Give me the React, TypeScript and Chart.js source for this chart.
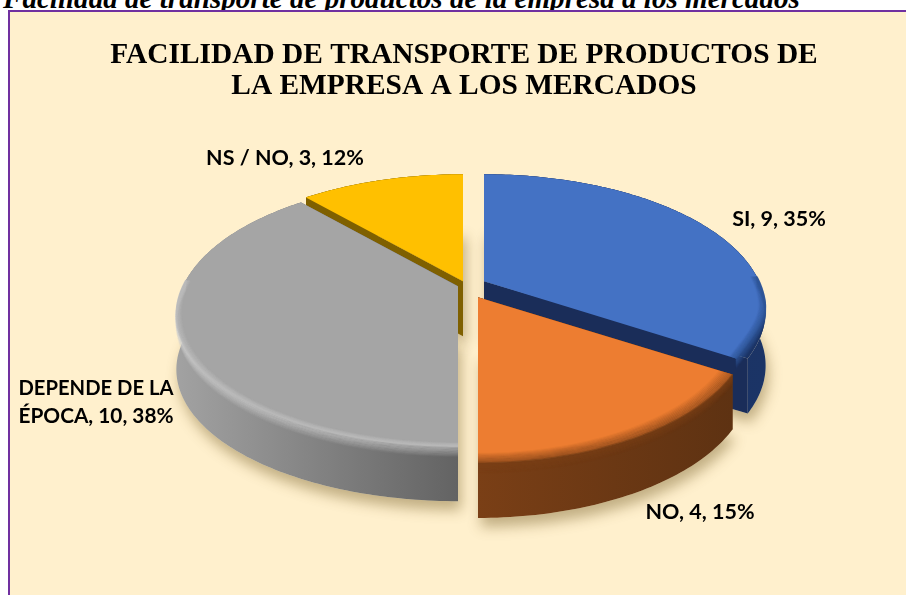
import React, { useEffect, useRef } from "react";
import { Chart, registerables } from "chart.js";

Chart.register(...registerables);

const CAPTION = "Facilidad de transporte de productos de la empresa a los mercados";
const TITLE_LINES = ["FACILIDAD DE TRANSPORTE DE PRODUCTOS DE", "LA EMPRESA A LOS MERCADOS"];
const categories = ["SI", "NO", "DEPENDE DE LA ÉPOCA", "NS / NO"];
const values = [9, 4, 10, 3];

const topColors = ["#4472C4", "#ED7D31", "#A5A5A5", "#FFC000"];
const wallLeft = ["#1B2F5E", "#7A3F16", "#A2A2A2", "#7F6000"];
const wallRight = ["#1B3466", "#5E3212", "#636363", "#7F6000"];
const wallRim = ["#2F5597", "#7A3F16", "#CDCDCD", "#BF9000"];
const innerRim = ["#2F5597", "#7A3F16", "#B8B8B8", "#FFC000"];
const innerWidth = [0.025, 0.05, 0.02, 0];
const sideColors = ["#1A2D59", "#6B3812", "#6E6E6E", "#7F6000"];

// drawing parameters of the tilted disc
const RADIUS = 275;
const RY = 130;
const PERSP = 0.216;
const DEPTH = 55;
const SHIFT_X = 8;
const explode = [
  { dx: 12, dy: -5, sx: 1, syFront: 1, taper: 0.045 },
  { dx: 6, dy: 11, sx: 0.965, syFront: 1, taper: 0 },
  { dx: -14, dy: 0, sx: 1, syFront: 0.965, taper: 0 },
  { dx: -9, dy: -5, sx: 1, syFront: 1, taper: 0 },
];
const labelAnchors = [
  { x: 779, y: 219, lines: 1 },
  { x: 700, y: 512, lines: 1 },
  { x: 96, y: 388, lines: 2 },
  { x: 285, y: 158, lines: 1 },
];
const WRAP_WIDTH = 155;

function project(cx: number, cy: number, ang: number, r: number, s: any, useTaper: boolean) {
  // ang: Chart.js angle (0 = east, clockwise); the right half gets a slight warp
  const fromTop = ang + Math.PI / 2;
  const warped = fromTop < Math.PI ? fromTop + (3 * Math.PI / 180) * Math.sin(2 * fromTop) : fromTop;
  const u = Math.sin(warped) * r;
  const v = -Math.cos(warped) * r;
  const den = 1 - PERSP * v;
  let sx = s.sx;
  if (useTaper && s.taper) {
    const t = Math.min(1, Math.max(0, (fromTop - (100 * Math.PI) / 180) / ((26 * Math.PI) / 180)));
    sx *= 1 - s.taper * t * t * (3 - 2 * t);
  }
  return {
    x: cx + (RADIUS * sx * u) / den,
    y: cy + (RY * v * (v > 0 ? s.syFront : 1)) / den,
  };
}

function arcPoints(cx: number, cy: number, a0: number, a1: number, s: any, useTaper: boolean, r = 1) {
  const n = Math.max(2, Math.ceil(Math.abs(a1 - a0) / (Math.PI / 180)));
  const pts: { x: number; y: number; a: number }[] = [];
  for (let i = 0; i <= n; i++) {
    const a = a0 + ((a1 - a0) * i) / n;
    pts.push({ ...project(cx, cy, a, r, s, useTaper), a });
  }
  return pts;
}

function wedgePath(ctx: CanvasRenderingContext2D, ax: number, ay: number, pts: { x: number; y: number }[], dy = 0) {
  ctx.beginPath();
  ctx.moveTo(ax, ay + dy);
  pts.forEach((p) => ctx.lineTo(p.x, p.y + dy));
  ctx.closePath();
}

const pie3d = {
  id: "pie3d",
  beforeDatasetDraw(chart: any, args: any) {
    const ctx: CanvasRenderingContext2D = chart.ctx;
    const arcs = args.meta.data;
    const geo = arcs.map((el: any, i: number) => {
      const cx = el.x + SHIFT_X + explode[i].dx;
      const cy = el.y + explode[i].dy;
      return {
        cx,
        cy,
        pts: arcPoints(cx, cy, el.startAngle, el.endAngle, explode[i], false),
        topPts: arcPoints(cx, cy, el.startAngle, el.endAngle, explode[i], true),
      };
    });

    // soft ground shadow
    ctx.save();
    ctx.shadowColor = "rgba(110,85,30,0.42)";
    ctx.shadowBlur = 13;
    ctx.shadowOffsetX = 3;
    ctx.shadowOffsetY = 9;
    geo.forEach((g: any) => {
      ctx.fillStyle = "#F2E3BE";
      wedgePath(ctx, g.cx, g.cy, g.pts, DEPTH);
      ctx.fill();
    });
    ctx.restore();

    // back to front
    [3, 0, 2, 1].forEach((i) => {
      const g = geo[i];
      const { cx, cy, pts, topPts } = g;
      const first = pts[0];
      const last = pts[pts.length - 1];

      // radial side faces
      ctx.fillStyle = sideColors[i];
      [first, last].forEach((p: any) => {
        ctx.beginPath();
        ctx.moveTo(cx, cy);
        ctx.lineTo(p.x, p.y);
        ctx.lineTo(p.x, p.y + DEPTH);
        ctx.lineTo(cx, cy + DEPTH);
        ctx.closePath();
        ctx.fill();
      });

      // outer wall
      const xs = pts.map((p: any) => p.x);
      const grad = ctx.createLinearGradient(Math.min(...xs), 0, Math.max(...xs), 0);
      grad.addColorStop(0, wallLeft[i]);
      grad.addColorStop(1, wallRight[i]);
      ctx.fillStyle = grad;
      ctx.beginPath();
      pts.forEach((p: any, k: number) => (k ? ctx.lineTo(p.x, p.y) : ctx.moveTo(p.x, p.y)));
      [...pts].reverse().forEach((p: any) => ctx.lineTo(p.x, p.y + DEPTH));
      ctx.closePath();
      ctx.fill();
      // the wall colour also fills any part of the disc the top face leaves bare
      wedgePath(ctx, cx, cy, pts);
      ctx.fill();

      // top face
      ctx.fillStyle = topColors[i];
      wedgePath(ctx, cx, cy, topPts);
      ctx.fill();

      // rounded rim: a fading band on the wall and one on the top face
      const front = topPts.filter((p: any) => Math.sin(p.a) > -0.05);
      if (front.length > 2) {
        ctx.save();
        ctx.lineJoin = "round";
        ctx.lineWidth = 1.6;
        const N = 10;
        for (let k = N; k >= 0; k--) {
          const t = k / N;
          ctx.globalAlpha = (1 - t) * 0.55;
          ctx.strokeStyle = wallRim[i];
          ctx.beginPath();
          front.forEach((p: any, j: number) =>
            j ? ctx.lineTo(p.x, p.y + t * 11) : ctx.moveTo(p.x, p.y + t * 11)
          );
          ctx.stroke();
        }
        if (innerWidth[i] > 0) {
          for (let k = N; k >= 0; k--) {
            const t = k / N;
            const inner = arcPoints(cx, cy, front[0].a, front[front.length - 1].a, explode[i], true, 1 - t * innerWidth[i]);
            ctx.globalAlpha = (1 - t) * 0.6;
            ctx.strokeStyle = innerRim[i];
            ctx.beginPath();
            inner.forEach((p: any, j: number) => (j ? ctx.lineTo(p.x, p.y) : ctx.moveTo(p.x, p.y)));
            ctx.stroke();
          }
        }
        ctx.restore();
      }
    });
    return false;
  },
  afterDraw(chart: any) {
    const ctx: CanvasRenderingContext2D = chart.ctx;
    const total = values.reduce((a, b) => a + b, 0);
    ctx.save();
    ctx.fillStyle = "#000";
    ctx.font = "bold 21.5px Lato";
    ctx.textAlign = "center";
    ctx.textBaseline = "middle";
    categories.forEach((c, i) => {
      const text = `${c}, ${values[i]}, ${Math.round((values[i] / total) * 100)}%`;
      const a = labelAnchors[i];
      if (a.lines === 1) {
        ctx.fillText(text, a.x, a.y);
      } else {
        const words = text.split(" ");
        const l1 = words.slice(0, words.length - 3).join(" ");
        const l2 = words.slice(words.length - 3).join(" ");
        [l1, l2].forEach((l, k) => ctx.fillText(l, a.x, a.y + k * 28, WRAP_WIDTH));
      }
    });
    ctx.restore();
  },
};

export default function App() {
  const ref = useRef<HTMLCanvasElement>(null);
  useEffect(() => {
    document.body.style.margin = "0";
    document.body.style.overflow = "hidden";
    const chart = new Chart(ref.current as HTMLCanvasElement, {
      type: "pie",
      data: {
        labels: categories,
        datasets: [{ data: values, backgroundColor: topColors, borderWidth: 0, radius: RADIUS } as any],
      },
      options: {
        responsive: false,
        animation: false,
        events: [],
        layout: { padding: { left: 22, right: 0, top: 0, bottom: 125 } },
        plugins: {
          legend: { display: false },
          tooltip: { enabled: false },
          title: {
            display: true,
            text: TITLE_LINES,
            color: "#000",
            font: { family: "'Liberation Serif'", size: 29.4, weight: "bold", lineHeight: 1.06 },
            padding: { top: 40, bottom: 0 },
          },
        },
      },
      plugins: [pie3d],
    } as any);
    return () => chart.destroy();
  }, []);
  return (
    <div style={{ position: "relative", width: 906, height: 595, overflow: "hidden", background: "#fff" }}>
      <div
        style={{
          position: "absolute",
          left: 3,
          top: -13.5,
          whiteSpace: "nowrap",
          font: "italic bold 29.1px 'Liberation Serif'",
          lineHeight: "22px",
          color: "#000",
        }}
      >
        {CAPTION}
      </div>
      <div
        style={{
          position: "absolute",
          left: 8,
          top: 10,
          width: 898,
          height: 585,
          background: "#FFF0CD",
          borderLeft: "2px solid #7030A0",
          borderTop: "2px solid #7030A0",
          boxSizing: "border-box",
        }}
      />
      <canvas ref={ref} width={906} height={595} style={{ position: "absolute", left: 0, top: 0, display: "block" }} />
    </div>
  );
}
